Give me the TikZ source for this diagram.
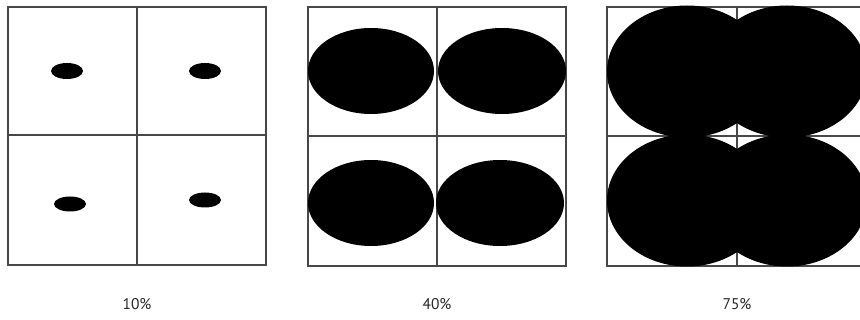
\documentclass[tikz,border=0pt]{standalone}
\usepackage{fontspec}
\setmainfont{PT Sans}
\begin{document}
\begin{tikzpicture}[x=1pt,y=-1pt,
  gridline/.style={draw=black!72,line width=1.3pt},
  blob/.style={fill=black},
  lbl/.style={font=\fontsize{15.5}{18}\selectfont,text=black!85,inner sep=0pt}]
\useasboundingbox (0,0) rectangle (860,320);
\clip (0,0) rectangle (860,320);
% panel 1 (10%)
\draw[gridline] (8,7) rectangle (266,265);
\draw[gridline] (137,7) -- (137,265);
\draw[gridline] (8,135) -- (266,135);
\fill[blob] (67,71) ellipse [x radius=16,y radius=8];
\fill[blob] (205,71) ellipse [x radius=16,y radius=8];
\fill[blob] (70,204) ellipse [x radius=16,y radius=7.5];
\fill[blob] (205,200) ellipse [x radius=16,y radius=7.5];
\node[lbl] (l10) at (137,304) {10\%};
% panel 2 (40%)
\draw[gridline] (308,7) rectangle (566,266);
\draw[gridline] (437,7) -- (437,266);
\draw[gridline] (308,136) -- (566,136);
\fill[blob] (371,71) ellipse [x radius=63,y radius=43];
\fill[blob] (502,71) ellipse [x radius=64,y radius=43];
\fill[blob] (371,203) ellipse [x radius=63,y radius=43];
\fill[blob] (500,203) ellipse [x radius=64,y radius=43];
\node[lbl] (l40) at (437,304) {40\%};
% panel 3 (75%)
\draw[gridline] (607,7) rectangle (867,266);
\draw[gridline] (737,7) -- (737,266);
\draw[gridline] (607,136) -- (867,136);
\fill[blob] (687,71.5) ellipse [x radius=80,y radius=66];
\fill[blob] (787,71.5) ellipse [x radius=80,y radius=66];
\fill[blob] (687,200.5) ellipse [x radius=80,y radius=66];
\fill[blob] (787,200.5) ellipse [x radius=80,y radius=66];
\node[lbl] (l75) at (737,304) {75\%};
\end{tikzpicture}
\end{document}
